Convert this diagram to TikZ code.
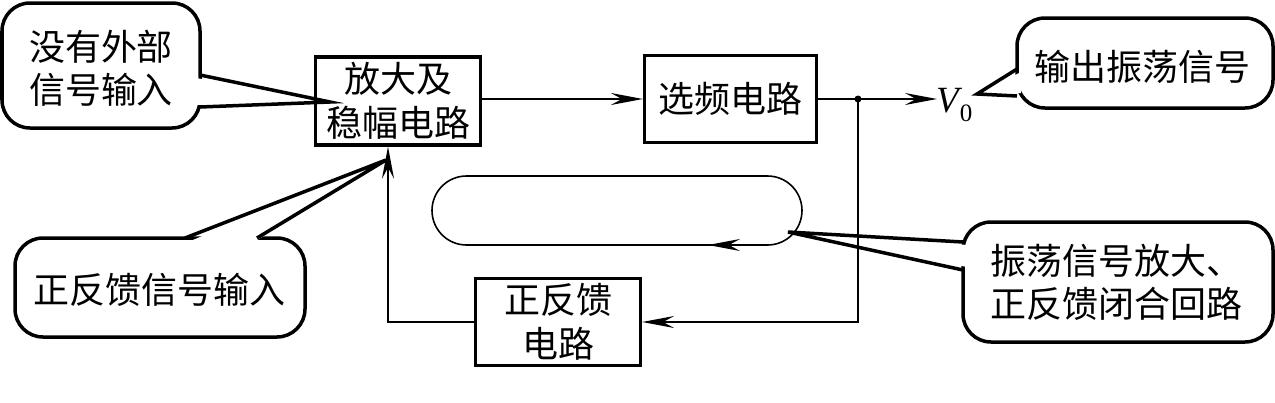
\documentclass[tikz,border=0pt]{standalone}
\usepackage{fontspec}
\newfontfamily\cjk{Noto Sans CJK SC}
\newfontfamily\tms{Liberation Serif}
\usetikzlibrary{arrows.meta}
\tikzset{
  blk/.style={draw, line width=3.2pt, inner sep=0pt, font=\cjk\fontsize{36}{44}\selectfont, align=center},
  conn/.style={line width=2pt},
  arr/.style={-{Stealth[length=32pt,width=12pt,inset=11pt]}},
  callout/.style={line width=3.5pt, rounded corners=28pt},
  ptr/.style={line width=3.5pt, line join=miter},
  ctext/.style={font=\cjk\fontsize{36}{43}\selectfont, align=center, inner sep=0pt}
}
\begin{document}
\begin{tikzpicture}[x=1pt,y=-1pt]
\useasboundingbox (0,0) rectangle (1275,402);

% callouts (drawn first)
% callout 1
\draw[callout] (2,3) rectangle (200,128);
\fill[white] (196,78) -- (330,102) -- (196,105) -- cycle;
\draw[ptr] (200,75) -- (330,102) -- (200,107);
\node[ctext] (c1) at (101,68) {没有外部\\信号输入};
% callout 2
\draw[callout] (15,238) rectangle (305,337);
\fill[white] (188,242) -- (386,160) -- (254,242) -- cycle;
\draw[ptr] (185,238) -- (386,160) -- (257,238);
\node[ctext] (c2) at (160,290) {正反馈信号输入};
% callout 3
\draw[callout] (1017,18) rectangle (1273,108);
\fill[white] (1021,72) -- (977,94) -- (1021,93) -- cycle;
\draw[ptr] (1017,69) -- (977,94) -- (1017,96);
\node[ctext] (c3) at (1142,67) {输出振荡信号};
% callout 4
\draw[callout] (963,222) rectangle (1273,342);
\fill[white] (967,245) -- (788,232) -- (967,267) -- cycle;
\draw[ptr] (963,242) -- (788,232) -- (963,270);
\node[ctext] (c4) at (1116,282) {振荡信号放大、\\正反馈闭合回路};

% blocks
\node[blk, minimum width=165pt, minimum height=88pt] (A) at (398,101) {放大及\\稳幅电路};
\node[blk, minimum width=172pt, minimum height=87pt] (B) at (730.5,99) {选频电路};
\node[blk, minimum width=165pt, minimum height=87pt] (C) at (558,322) {正反馈\\电路};

% loop stadium
\draw[line width=1.6pt, rounded corners=34.5pt] (432,176) rectangle (802,245);
\coordinate (lp1) at (740,245);
\coordinate (lp2) at (708,245);
\draw[line width=1.6pt, arr] (lp1) -- (lp2);

% connectors
\coordinate (dot) at (858,99);
\coordinate (vo) at (937,99);
\coordinate (dn) at (858,322);
\coordinate (lf) at (388,322);
\draw[conn, arr] (A.east |- B.west) -- (B.west);
\draw[conn] (B.east) -- (dot);
\draw[conn, arr] (dot) -- (vo);
\fill (dot) circle (3.5pt);
\draw[conn, arr] (dot) -- (dn) -- (C.east);
\draw[conn, arr] (C.west) -- (lf) -- (lf |- A.south);

\node[inner sep=0pt, anchor=base west] (V) at (936,112) {\tms\fontsize{37}{40}\selectfont\itshape V\kern1pt\raisebox{-9pt}{\upshape\fontsize{25}{28}\selectfont 0}};
\end{tikzpicture}
\end{document}
